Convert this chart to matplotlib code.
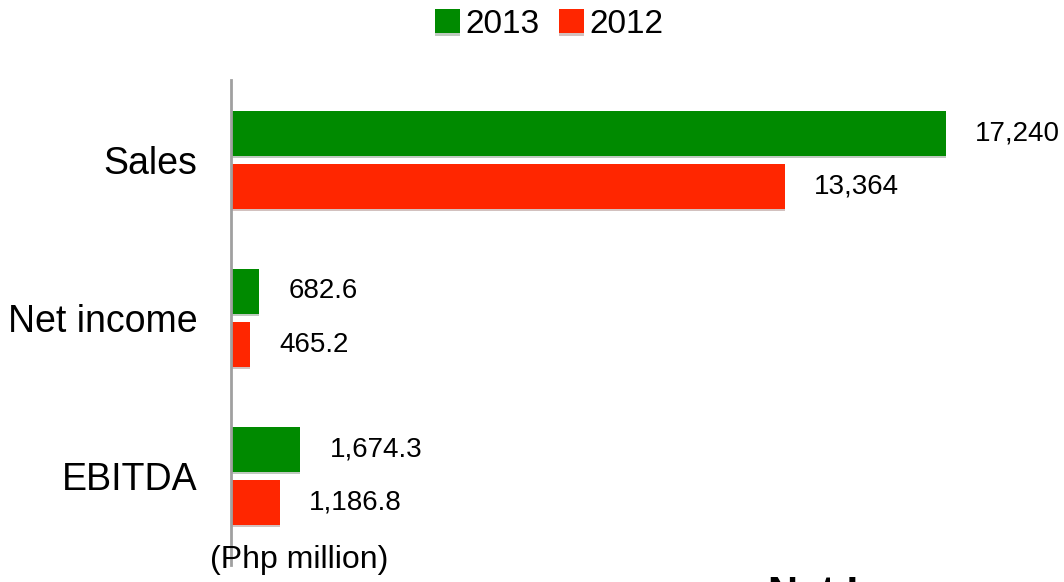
import matplotlib.pyplot as plt
import matplotlib.patheffects as pe
import numpy as np

plt.rcParams['font.family'] = ['Liberation Sans', 'DejaVu Sans']

# Données (Php million)
categories = ['Sales', 'Net income', 'EBITDA']
values_2013 = [17240, 682.6, 1674.3]
values_2012 = [13364, 465.2, 1186.8]
labels_2013 = ['17,240', '682.6', '1,674.3']
labels_2012 = ['13,364', '465.2', '1,186.8']

green = '#008a00'
red = '#ff2600'

fig = plt.figure(figsize=(10.64, 5.82), dpi=100)
ax = fig.add_axes([231 / 1064, 1 - 565 / 582, 1 - 231 / 1064, (565 - 80) / 582])

y = np.arange(len(categories))
h = 0.28
off = 0.168
shadow = [pe.SimplePatchShadow(offset=(0, -2), alpha=0.25), pe.Normal()]

b1 = ax.barh(y - off, values_2013, height=h, color=green, label='2013', path_effects=shadow)
b2 = ax.barh(y + off, values_2012, height=h, color=red, label='2012', path_effects=shadow)

xmax = 833 * 17240 / 715
ax.set_xlim(0, xmax)
ax.set_ylim(2.563, -0.506)

for yi, v, t in zip(y - off, values_2013, labels_2013):
    ax.annotate(t, (v, yi), xytext=(29, 0), textcoords='offset pixels',
                va='center', ha='left', fontsize=20)
for yi, v, t in zip(y + off, values_2012, labels_2012):
    ax.annotate(t, (v, yi), xytext=(29, 0), textcoords='offset pixels',
                va='center', ha='left', fontsize=20)

ax.set_yticks(y)
ax.set_yticklabels(categories, fontsize=27)
ax.tick_params(axis='y', length=0, pad=24)
ax.set_xticks([])
for s in ['top', 'right', 'bottom']:
    ax.spines[s].set_visible(False)
ax.spines['left'].set_color('#a0a0a0')
ax.spines['left'].set_linewidth(2)

fig.legend(handles=[b1, b2], loc='upper center', bbox_to_anchor=(0.516, 1.008),
           ncol=2, frameon=False, fontsize=24, handlelength=0.75, handleheight=0.75,
           handletextpad=0.15, columnspacing=0.6, borderaxespad=0.0)

fig.text(299 / 1064, 1 - 560 / 582, '(Php million)', ha='center', va='center', fontsize=23)
# titre suivant, coupé en bas comme dans l'original
fig.text(768 / 1064, 1 - 575 / 582, 'Net Income', ha='left', va='top', fontsize=30,
         fontweight='bold')

fig.savefig('out.png', dpi=100)
